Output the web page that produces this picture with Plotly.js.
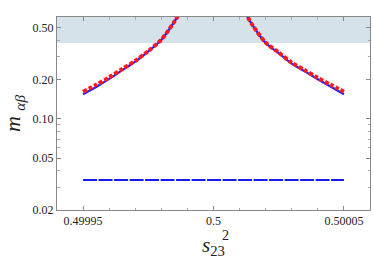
<!DOCTYPE html>
<html>
<head>
<meta charset="utf-8">
<script src="https://cdn.plot.ly/plotly-3.0.1.min.js"></script>
<style>html,body{margin:0;padding:0;background:#fff;}#chart{width:374px;height:259px;}</style>
</head>
<body>
<div id="chart"></div>
<script>
// x values (s_23^2) on each side of the pole
const xLeft = [0.49995, 0.499955, 0.49996, 0.499965, 0.49997, 0.499975, 0.49998, 0.499985, 0.499988];
const xRight = [0.500012, 0.500015, 0.50002, 0.500025, 0.50003, 0.500035, 0.50004, 0.500045, 0.50005];
// blue solid curve
const blueLeft = [0.155, 0.176, 0.203, 0.237, 0.276, 0.330, 0.405, 0.56, 0.70];
const blueRight = [0.66, 0.523, 0.383, 0.32, 0.266, 0.232, 0.202, 0.177, 0.155];
// red dotted curve
const redLeft = [0.162, 0.183, 0.209, 0.242, 0.280, 0.333, 0.407, 0.56, 0.70];
const redRight = [0.66, 0.524, 0.386, 0.324, 0.271, 0.237, 0.207, 0.183, 0.162];
// blue dashed flat line
const flatX = [0.49995, 0.50005];
const flatY = [0.034, 0.034];
// excluded band (lower edge)
const bandLow = 0.383;
const bandHigh = 1;
// ticks
const xTickVals = [0.49995, 0.5, 0.50005];
const xTickText = ["0.49995", "0.5", "0.50005"];
const xMinorVals = [0.49995, 0.49996, 0.49997, 0.49998, 0.49999, 0.5, 0.50001, 0.50002, 0.50003, 0.50004, 0.50005];
const yTickVals = [0.02, 0.05, 0.1, 0.2, 0.5];
const yTickText = ["0.02", "0.05", "0.10", "0.20", "0.50"];
const yMinorVals = [0.03, 0.04, 0.06, 0.07, 0.08, 0.09, 0.3, 0.4];

const join = (a, b) => a.concat([null], b);

const traces = [
  {x: join(xLeft, xRight), y: join(blueLeft, blueRight), mode: 'lines',
   line: {color: '#1f1fff', width: 2.2, shape: 'spline', smoothing: 0.8}, connectgaps: false, hoverinfo: 'skip'},
  {x: join(xLeft, xRight), y: join(redLeft, redRight), mode: 'lines',
   line: {color: '#ff1a1a', width: 4, dash: '4px,2px', shape: 'spline', smoothing: 0.8}, connectgaps: false, hoverinfo: 'skip'},
  {x: flatX, y: flatY, mode: 'lines',
   line: {color: '#1a1aee', width: 2, dash: '14px,1.5px'}, hoverinfo: 'skip'}
];

const font = {family: '"Liberation Serif", "DejaVu Serif", serif', size: 12, color: '#222'};

const layout = {
  width: 374, height: 259,
  margin: {l: 57, r: 4, t: 17, b: 49},
  paper_bgcolor: '#fff', plot_bgcolor: '#fff',
  showlegend: false,
  font: font,
  shapes: [{type: 'rect', xref: 'paper', x0: 0, x1: 1, yref: 'y', y0: bandLow, y1: bandHigh,
            fillcolor: '#d6e2ea', line: {width: 0}, layer: 'below'}],
  xaxis: {
    range: [0.49994, 0.50006], showgrid: false, zeroline: false,
    showline: true, linecolor: '#888', linewidth: 1, mirror: 'ticks',
    ticks: 'inside', ticklen: 4, tickcolor: '#888',
    tickmode: 'array', tickvals: xTickVals, ticktext: xTickText,
    minor: {tickmode: 'array', tickvals: xMinorVals, ticks: 'inside', ticklen: 2.5, tickcolor: '#aaa', showgrid: false},
    tickfont: font,
    title: {text: '<i>s</i><sub>23</sub>', font: {family: font.family, size: 21, color: '#222'}, standoff: 10}
  },
  yaxis: {
    type: 'log', range: [Math.log10(0.02), Math.log10(0.607)], showgrid: false, zeroline: false,
    showline: true, linecolor: '#888', linewidth: 1, mirror: 'ticks',
    ticks: 'inside', ticklen: 4, tickcolor: '#888',
    tickmode: 'array', tickvals: yTickVals, ticktext: yTickText,
    minor: {tickmode: 'array', tickvals: yMinorVals, ticks: 'inside', ticklen: 2.5, tickcolor: '#aaa', showgrid: false},
    tickfont: font,
    title: {text: '<i>m</i> <sub><i>αβ</i></sub>', font: {family: font.family, size: 22, color: '#222'}, standoff: 8}
  },
  annotations: [{text: '2', xref: 'paper', yref: 'paper', x: 0.537, y: -0.13, showarrow: false,
                 font: {family: font.family, size: 14, color: '#222'}, xanchor: 'center', yanchor: 'middle'}]
};

Plotly.newPlot('chart', traces, layout, {staticPlot: true, displayModeBar: false});
</script>
</body>
</html>
